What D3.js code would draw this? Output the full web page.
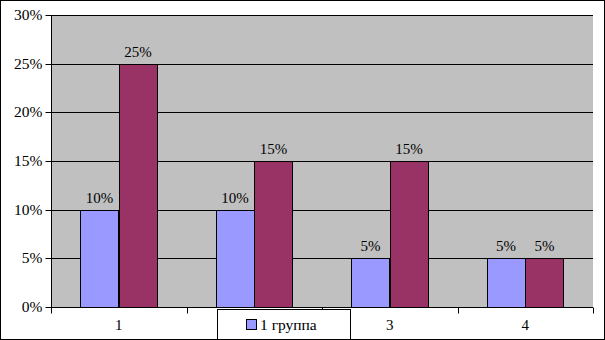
<!DOCTYPE html>
<html><head><meta charset="utf-8">
<script src="https://cdn.jsdelivr.net/npm/d3@7"></script>
<style>html,body{margin:0;padding:0;background:#fff;}svg{display:block;}</style>
</head><body>
<script>
const categories = ["1", "2", "3", "4"];
const seriesNames = ["1 группа"];
const series1 = [10, 10, 5, 5];
const series2 = [25, 15, 15, 5];
const yTicks = [0, 5, 10, 15, 20, 25, 30];
const colors = ["#9999FF", "#993366"];

(function () {
const W = 605, H = 340;
const svg = d3.select("body").append("svg").attr("width", W).attr("height", H);
const font = "'Liberation Serif', 'Times New Roman', serif";
svg.append("rect").attr("x", 0.5).attr("y", 0.5).attr("width", W - 1).attr("height", H - 1)
  .attr("fill", "#fff").attr("stroke", "#000");

const pL = 51, pR = 593, pT = 15, pB = 307;
const x = d3.scaleBand().domain(categories).range([pL, pR]).paddingInner(0).paddingOuter(0);
const y = d3.scaleLinear().domain([0, 30]).range([pB, pT]);

svg.append("rect").attr("x", pL).attr("y", pT).attr("width", pR - pL).attr("height", pB - pT)
  .attr("fill", "#C0C0C0");

// gridlines
svg.append("g").selectAll("line").data(yTicks).join("line")
  .attr("x1", pL).attr("x2", pR)
  .attr("y1", d => Math.round(y(d)) + 0.5).attr("y2", d => Math.round(y(d)) + 0.5)
  .attr("stroke", "#000");

const series = [series1, series2];
const bw = x.bandwidth();
const pad = bw * 0.2175;
const barW = (bw - 2 * pad) / 2;
const data = [];
categories.forEach((c, i) => series.forEach((s, j) => data.push({c, j, v: s[i]})));

svg.append("g").selectAll("rect").data(data).join("rect")
  .attr("x", d => Math.round(x(d.c) + pad + d.j * barW) + 0.5)
  .attr("width", Math.round(barW))
  .attr("y", d => Math.round(y(d.v)) + 0.5)
  .attr("height", d => Math.round(y(0)) - Math.round(y(d.v)))
  .attr("fill", d => colors[d.j]).attr("stroke", "#000");

svg.append("g").selectAll("text").data(data).join("text")
  .attr("x", d => x(d.c) + pad + d.j * barW + barW / 2)
  .attr("y", d => y(d.v) - 7)
  .attr("text-anchor", "middle").attr("font-family", font).attr("font-size", 15).attr("fill", "#000")
  .text(d => d.v + "%");

// y axis
const yAxis = d3.axisLeft(y).tickValues(yTicks).tickFormat(d => d + "%").tickSize(6).tickPadding(3);
const ga = svg.append("g").attr("transform", `translate(${pL + 0.5},0)`).call(yAxis);
ga.selectAll("text").attr("font-family", font).attr("font-size", 15.5).attr("fill", "#000");
ga.selectAll("line").attr("stroke", "#000");
ga.select(".domain").attr("stroke", "#000").attr("d", `M0,${pT}V${pB + 0.5}`);
ga.selectAll(".tick").attr("transform", d => `translate(0,${Math.round(y(d)) + 0.5})`);

// x axis
const gx = svg.append("g").attr("transform", `translate(0,${pB + 0.5})`);
gx.append("line").attr("x1", pL).attr("x2", pR).attr("stroke", "#000");
const tickPos = categories.map(c => x(c)).concat([pR]);
gx.selectAll("line.t").data(tickPos).join("line").attr("class", "t")
  .attr("x1", d => Math.round(d) + 0.5).attr("x2", d => Math.round(d) + 0.5)
  .attr("y1", 0).attr("y2", 6).attr("stroke", "#000");
gx.selectAll("text").data(categories).join("text")
  .attr("x", d => x(d) + bw / 2).attr("y", 22)
  .attr("text-anchor", "middle").attr("font-family", font).attr("font-size", 15).attr("fill", "#000")
  .text(d => d);

// legend (only its first entry is visible in the reference)
const lg = svg.append("g");
lg.append("rect").attr("x", 217.5).attr("y", 309.5).attr("width", 133).attr("height", 40)
  .attr("fill", "#fff").attr("stroke", "#000");
seriesNames.forEach((n, i) => {
  const yy = 319.5;
  lg.append("rect").attr("x", 246.5).attr("y", yy).attr("width", 10).attr("height", 10)
    .attr("fill", colors[i]).attr("stroke", "#000");
  lg.append("text").attr("x", 260).attr("y", yy + 10).attr("font-family", font).attr("font-size", 15.5)
    .attr("fill", "#000").text(n);
});
svg.append("rect").attr("x", 0.5).attr("y", 0.5).attr("width", W - 1).attr("height", H - 1)
  .attr("fill", "none").attr("stroke", "#000");
})();
</script>
</body></html>
